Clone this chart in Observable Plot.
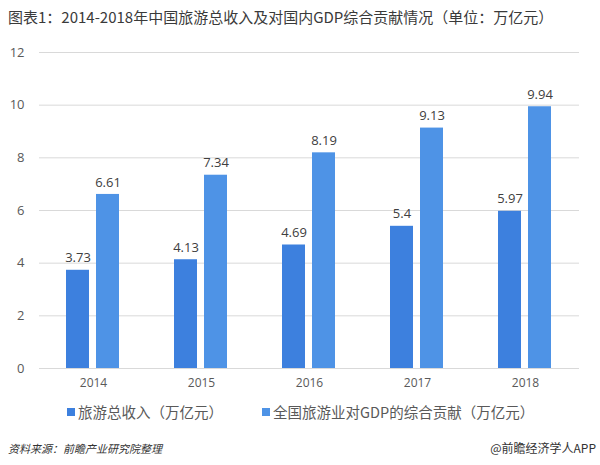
<!DOCTYPE html>
<html><head><meta charset="utf-8">
<script src="https://cdn.jsdelivr.net/npm/d3@7"></script>
<script src="https://cdn.jsdelivr.net/npm/@observablehq/plot@0.6"></script>
<style>
body{margin:0;background:#fff;font-family:"Noto Sans CJK SC","Noto Sans",sans-serif;width:600px;height:465px;overflow:hidden;position:relative}
#title{position:absolute;left:8px;top:6px;font-size:15px;color:#3a3a3a;white-space:nowrap}
#chart{position:absolute;left:0;top:30px}
#legend{position:absolute;left:0;top:401px;width:600px;font-size:14.5px;color:#595959;white-space:nowrap}
.item{position:absolute;top:0;display:flex;align-items:center}
.sw{width:8px;height:8px;margin-right:3px}
#src{position:absolute;left:8px;top:440px;font-size:11px;color:#333;font-style:italic}
#app{position:absolute;right:4px;top:439px;font-size:12px;color:#333}
</style></head><body>
<div id="title">图表1：2014-2018年中国旅游总收入及对国内GDP综合贡献情况（单位：万亿元）</div>
<div id="chart"></div>
<div id="legend"></div>
<div id="src">资料来源：前瞻产业研究院整理</div>
<div id="app">@前瞻经济学人APP</div>
<script>
const years = ["2014","2015","2016","2017","2018"];
const seriesNames = ["旅游总收入（万亿元）","全国旅游业对GDP的综合贡献（万亿元）"];
const revenue = [3.73,4.13,4.69,5.4,5.97];
const gdpContribution = [6.61,7.34,8.19,9.13,9.94];
const colors = ["#3d80de","#4e93e6"];
const yTicks = [0,2,4,6,8,10,12];

const data = [];
years.forEach((y,i)=>{
  data.push({year:y, series:seriesNames[0], value:revenue[i]});
  data.push({year:y, series:seriesNames[1], value:gdpContribution[i]});
});

const chart = Plot.plot({
  width:600, height:370,
  marginTop:22, marginBottom:32, marginLeft:37, marginRight:19,
  style:{fontFamily:"'Open Sans','Noto Sans',sans-serif", fontSize:"12px", color:"#595959"},
  fx:{domain:years, padding:0, label:null, axis:"bottom", tickSize:0, tickPadding:10},
  x:{domain:seriesNames, paddingInner:0.226, paddingOuter:0.867, axis:null},
  y:{domain:[0,12], ticks:yTicks, label:null},
  color:{domain:seriesNames, range:colors},
  marks:[
    Plot.gridY(yTicks,{stroke:"#d9d9d9", strokeOpacity:1}),
    Plot.axisY(yTicks,{tickSize:0, tickPadding:15, fontSize:13, fill:"#595959", label:null}),
    Plot.barY(data,{fx:"year", x:"series", y:"value", fill:"series"}),
    Plot.text(data,{fx:"year", x:"series", y:"value", text:d=>String(d.value), dy:-12, fontSize:13, fill:"#404040"})
  ]
});
document.getElementById("chart").appendChild(chart);

const lg = document.getElementById("legend");
const lefts = [67, 262];
seriesNames.forEach((s,i)=>{
  const it = document.createElement("div");
  it.className="item"; it.style.left = lefts[i]+"px";
  it.innerHTML = `<span class="sw" style="background:${colors[i]}"></span><span>${s}</span>`;
  lg.appendChild(it);
});
</script>
</body></html>
